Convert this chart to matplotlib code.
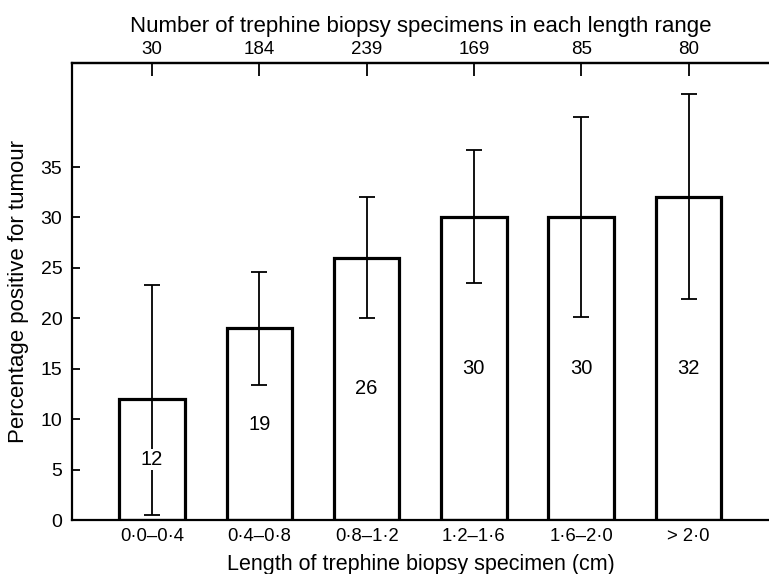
import matplotlib
matplotlib.use("Agg")
import matplotlib.pyplot as plt

# data
ranges = ["0·0–0·4", "0·4–0·8", "0·8–1·2", "1·2–1·6", "1·6–2·0", "> 2·0"]
counts = [30, 184, 239, 169, 85, 80]
percent = [12, 19, 26, 30, 30, 32]
err_low = [0.5, 13.4, 20.0, 23.5, 20.1, 21.9]
err_high = [23.3, 24.6, 32.0, 36.7, 40.0, 42.2]

plt.rcParams["font.family"] = ["Liberation Sans", "DejaVu Sans"]

fig = plt.figure(figsize=(7.69, 5.74), dpi=100, facecolor="white")
ax = fig.add_axes([0.0936, 0.094, 0.9064, 0.796])

x = list(range(len(ranges)))
ax.bar(x, percent, width=0.61, facecolor="white", edgecolor="black",
       linewidth=2.3, zorder=2)

lower = [p - lo for p, lo in zip(percent, err_low)]
upper = [hi - p for p, hi in zip(percent, err_high)]
ax.errorbar(x, percent, yerr=[lower, upper], fmt="none", ecolor="black",
            elinewidth=1.3, capsize=6, capthick=1.3, zorder=3)

# value labels inside the bars
for xi, p in zip(x, percent):
    ax.text(xi, min(p / 2, 15), str(p), ha="center", va="center",
            fontsize=14.5, zorder=4,
            bbox=dict(facecolor="white", edgecolor="none", pad=1))

ax.set_xlim(-0.745, 5.75)
ax.set_ylim(0, 45.3)
ax.set_yticks(range(0, 36, 5))
ax.set_xticks(x)
ax.set_xticklabels(ranges)
ax.tick_params(axis="x", length=0, labelsize=13.3, pad=6)
ax.tick_params(axis="y", length=6, width=1.3, direction="in", labelsize=14, pad=7)
ax.set_xlabel("Length of trephine biopsy specimen (cm)", fontsize=15.5, labelpad=6)
ax.set_ylabel("Percentage positive for tumour", fontsize=16, labelpad=8)

for side in ["left", "bottom", "top"]:
    ax.spines[side].set_linewidth(1.6)
ax.spines["right"].set_visible(False)

top = ax.twiny()
top.set_xlim(ax.get_xlim())
top.set_xticks(x)
top.set_xticklabels([str(c) for c in counts])
top.tick_params(axis="x", direction="in", length=9, width=1.3, labelsize=13.5, pad=4)
top.set_xlabel("Number of trephine biopsy specimens in each length range",
               fontsize=16, labelpad=6)
for side in ["left", "right", "bottom"]:
    top.spines[side].set_visible(False)
top.spines["top"].set_linewidth(1.6)

fig.savefig("out.png", dpi=100, facecolor="white")
